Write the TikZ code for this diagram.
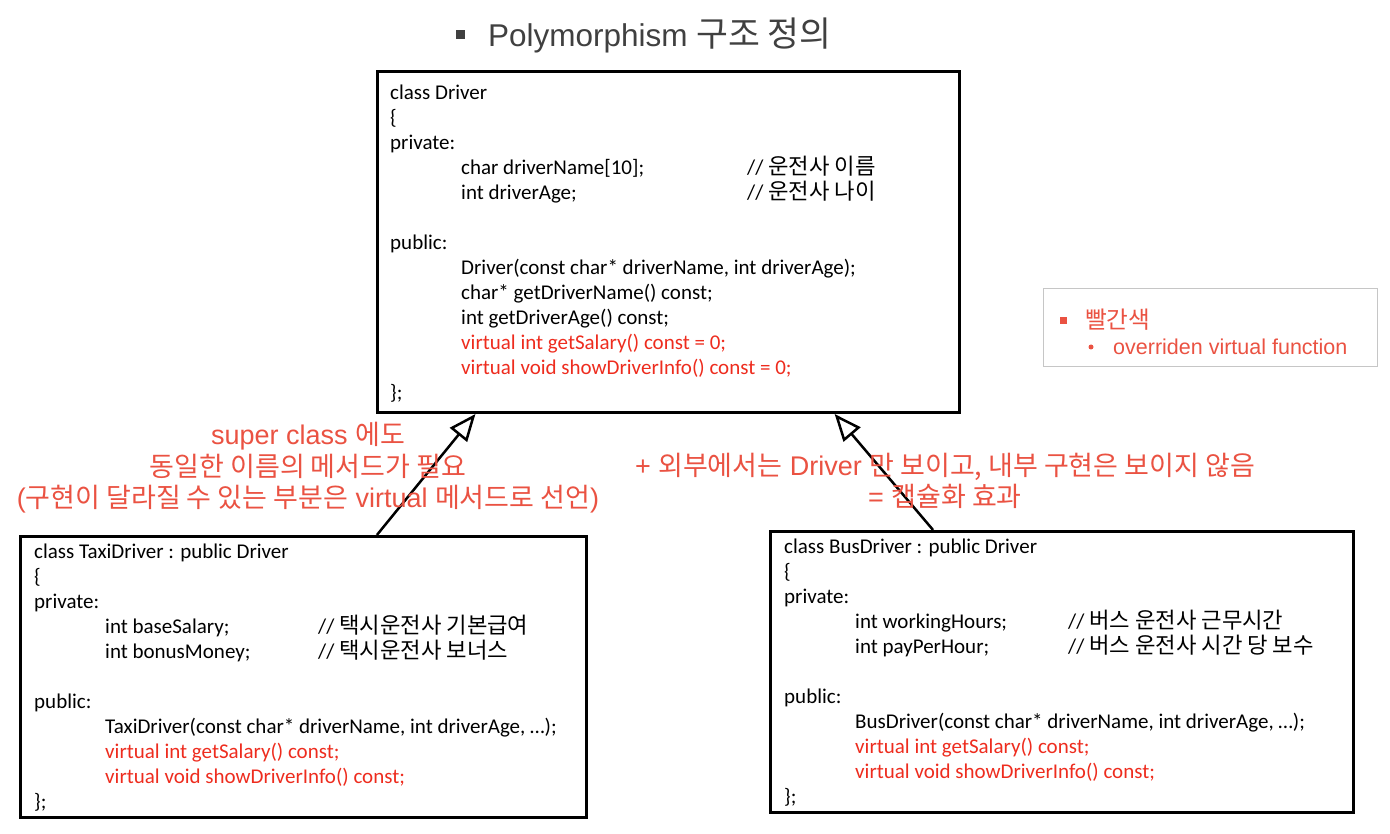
\documentclass[tikz,border=0pt]{standalone}
\usepackage{fontspec}
\setmainfont{Liberation Sans}
\newfontfamily\codefont{Carlito}
\newfontfamily\kr[Scale=1.1]{Noto Sans CJK KR}
\newfontfamily\krn{Noto Sans CJK KR}
\newfontfamily\krcode[Scale=1.06]{Noto Sans CJK KR}
\usepackage{xcolor}
\usetikzlibrary{positioning,arrows.meta,calc}
\definecolor{codered}{RGB}{238,44,30}
\definecolor{notered}{RGB}{234,82,66}
\definecolor{titlegray}{RGB}{64,64,64}
\newcommand\codeind{\hspace*{71pt}}
\newcommand\codecmt[3]{\codeind\makebox[#1][l]{#2}// {\krcode #3}}
\newcommand\vfn[1]{\textcolor{codered}{#1}}
\tikzset{
  classbox/.style={draw=black, line width=3pt, fill=white, inner sep=0pt, anchor=north west},
  code/.style={anchor=north west, inner sep=0pt, align=left, font=\codefont\fontsize{21}{25}\selectfont},
  note/.style={text=notered, align=center, inner sep=0pt, font=\fontsize{27}{31.5}\selectfont},
  inherit/.style={draw=black, line width=2.5pt, -{Triangle[open, length=27pt, width=22pt]}},
  legtext/.style={anchor=west, inner sep=0pt, text=notered, font=\fontsize{21.5}{24}\selectfont}
}

\begin{document}
\begin{tikzpicture}[x=1pt, y=-1pt]
  \useasboundingbox (0,0) rectangle (1390,834);
  % title
  \node[fill=titlegray, minimum size=9pt, inner sep=0pt] (tbullet) at (460,35) {};
  \node[anchor=west, inner sep=0pt, text=titlegray, font=\fontsize{31.5}{36}\selectfont] (title) at (488,35) {Polymorphism {\kr 구조 정의}};

  % base class
  \node[classbox, minimum width=582pt, minimum height=341pt] (driver) at (376,70) {};
  \node[code] (drivercode) at (390,85) {class Driver\\
    \{\\
    private:\\
    \codecmt{286pt}{char driverName[10];}{운전사 이름}\\
    \codecmt{286pt}{int driverAge;}{운전사 나이}\\[25pt]
    public:\\
    \codeind Driver(const char* driverName, int driverAge);\\
    \codeind char* getDriverName() const;\\
    \codeind int getDriverAge() const;\\
    \codeind\vfn{virtual int getSalary() const = 0;}\\
    \codeind\vfn{virtual void showDriverInfo() const = 0;}\\
    \};};

  % derived classes
  \node[classbox, minimum width=566pt, minimum height=281pt] (taxi) at (19,535) {};
  \node[code] (taxicode) at (34,544) {class TaxiDriver : public Driver\\
    \{\\
    private:\\
    \codecmt{213pt}{int baseSalary;}{택시운전사 기본급여}\\
    \codecmt{213pt}{int bonusMoney;}{택시운전사 보너스}\\[25pt]
    public:\\
    \codeind TaxiDriver(const char* driverName, int driverAge, …);\\
    \codeind\vfn{virtual int getSalary() const;}\\
    \codeind\vfn{virtual void showDriverInfo() const;}\\
    \};};

  \node[classbox, minimum width=583pt, minimum height=281pt] (bus) at (769,530) {};
  \node[code] (buscode) at (784,539) {class BusDriver : public Driver\\
    \{\\
    private:\\
    \codecmt{213pt}{int workingHours;}{버스 운전사 근무시간}\\
    \codecmt{213pt}{int payPerHour;}{버스 운전사 시간 당 보수}\\[25pt]
    public:\\
    \codeind BusDriver(const char* driverName, int driverAge, …);\\
    \codeind\vfn{virtual int getSalary() const;}\\
    \codeind\vfn{virtual void showDriverInfo() const;}\\
    \};};

  % inheritance
  \draw[inherit] ($(taxi.north west)!0.629!(taxi.north east)$) -- ($(driver.south west)!0.170!(driver.south east)$);
  \draw[inherit] ($(bus.north west)!0.280!(bus.north east)$) -- ($(driver.south west)!0.784!(driver.south east)$);

  % notes
  \node[note] (leftnote) at (308,468) {super class {\krn 에도}\\
    {\krn 동일한 이름의 메서드가 필요}\\
    ({\krn 구현이 달라질 수 있는 부분은} virtual {\krn 메서드로 선언})};
  \node[note] (rightnote) at (945,481) {+ {\krn 외부에서는} Driver {\krn 만 보이고, 내부 구현은 보이지 않음}\\
    = {\krn 캡슐화 효과}};

  % legend
  \node[draw=gray!45, line width=1pt, minimum width=334pt, minimum height=78pt, anchor=north west] (legend) at (1043,288) {};
  \node[fill=notered, minimum size=7pt, inner sep=0pt] (lgsq) at (1063,321) {};
  \node[legtext] (lgred) at (1085,320) {\kr 빨간색};
  \node[circle, fill=notered, minimum size=5pt, inner sep=0pt] (lgdot) at (1091,347) {};
  \node[legtext] (lgfn) at (1113,347) {overriden virtual function};
\end{tikzpicture}
\end{document}
